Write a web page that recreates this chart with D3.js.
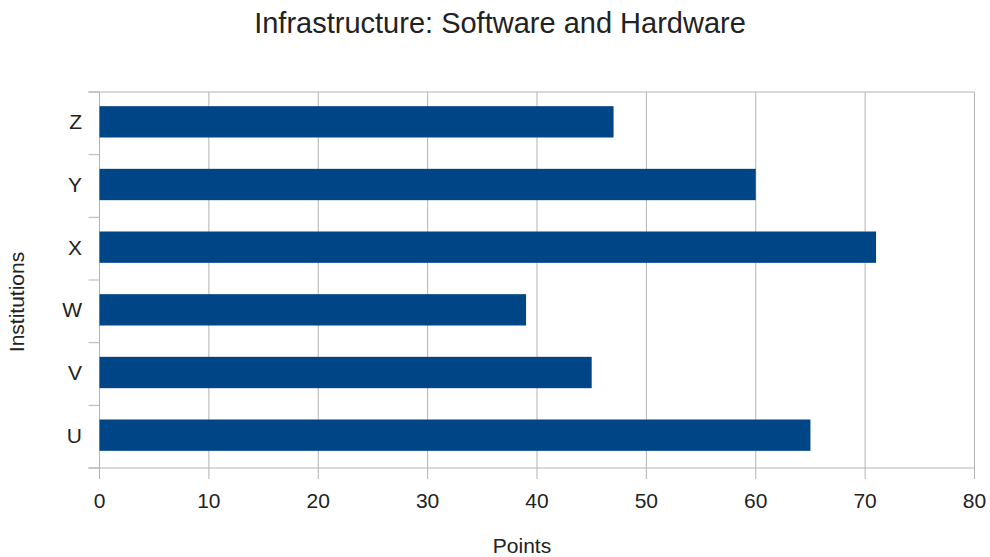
<!DOCTYPE html>
<html><head><meta charset="utf-8">
<script src="https://cdn.jsdelivr.net/npm/d3@7"></script>
<style>body{margin:0;background:#fff;}text{font-family:"Liberation Sans",Arial,sans-serif;fill:#222;}</style>
</head><body>
<svg id="c" width="990" height="557"></svg>
<script>
const categories = ["U","V","W","X","Y","Z"];
const values = [65,45,39,71,60,47];
const xTicks = [0,10,20,30,40,50,60,70,80];
const title = "Infrastructure: Software and Hardware";
const xLabel = "Points";
const yLabel = "Institutions";

const svg = d3.select("#c");
const m = {l:99.5, r:974.5, t:92, b:468};
const x = d3.scaleLinear().domain([0,80]).range([m.l, m.r]);
const y = d3.scaleBand().domain(categories.slice().reverse()).range([m.t, m.b]).paddingInner(0.5).paddingOuter(0.25);
const yb = d3.scaleBand().domain(categories.slice().reverse()).range([m.t, m.b]);
const grid = "#b3b3b3";

svg.append("g").selectAll("line").data(xTicks).join("line")
  .attr("x1", d=>x(d)).attr("x2", d=>x(d)).attr("y1", m.t).attr("y2", m.b+11)
  .attr("stroke", grid).attr("stroke-width", 1);
svg.append("line").attr("x1", m.l-11).attr("x2", m.r).attr("y1", m.t).attr("y2", m.t).attr("stroke", grid);
svg.append("line").attr("x1", m.l-11).attr("x2", m.r).attr("y1", m.b).attr("y2", m.b).attr("stroke", grid);
const bounds = yb.domain().map(d=>yb(d)).concat([m.b]);
svg.append("g").selectAll("line").data(bounds).join("line")
  .attr("x1", m.l-11).attr("x2", m.l).attr("y1", d=>d).attr("y2", d=>d).attr("stroke", grid);

svg.append("g").selectAll("rect").data(categories).join("rect")
  .attr("x", x(0)).attr("y", d=>y(d)-1.5).attr("height", y.bandwidth())
  .attr("width", (d,i)=>x(values[i])-x(0)).attr("fill", "#004586");

svg.append("g").selectAll("text").data(xTicks).join("text")
  .attr("x", d=>x(d)).attr("y", 508).attr("text-anchor","middle").attr("font-size",21).text(d=>d);
svg.append("g").selectAll("text").data(categories).join("text")
  .attr("x", 82).attr("y", d=>yb(d)+yb.bandwidth()/2 - 1.5).attr("dy","0.35em").attr("text-anchor","end").attr("font-size",21).text(d=>d);

svg.append("text").attr("x", 500).attr("y", 33).attr("text-anchor","middle").attr("font-size",29).text(title);
svg.append("text").attr("x", 522).attr("y", 553).attr("text-anchor","middle").attr("font-size",21).text(xLabel);
svg.append("text").attr("transform","translate(24,302) rotate(-90)").attr("text-anchor","middle").attr("font-size",21).text(yLabel);
</script>
</body></html>
